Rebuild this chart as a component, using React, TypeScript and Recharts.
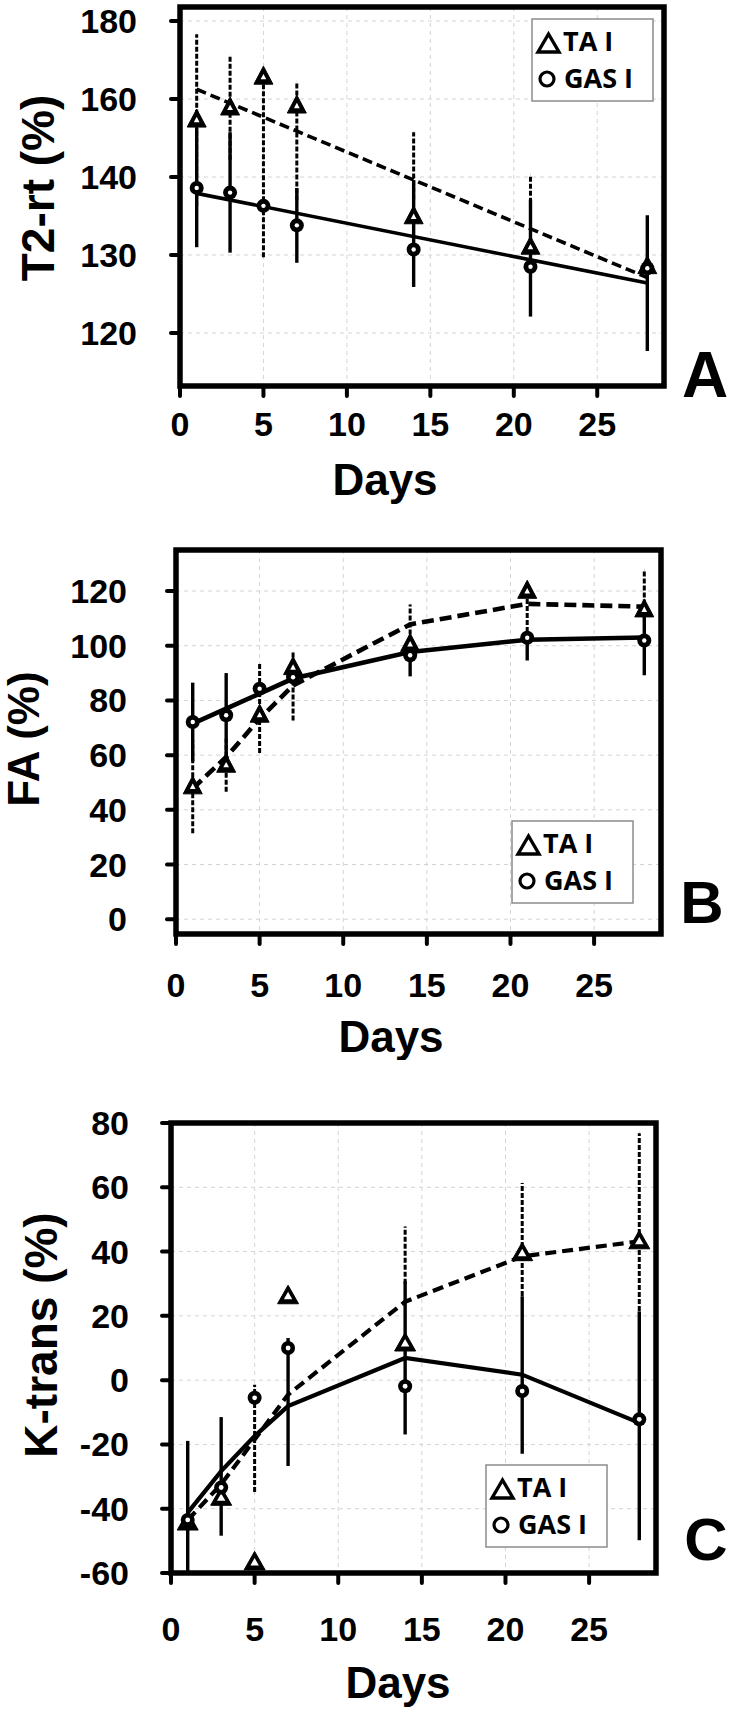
import React from 'react';
import {
  ComposedChart,
  Scatter,
  XAxis,
  YAxis,
  CartesianGrid,
  ErrorBar,
  ReferenceArea,
  Legend,
} from 'recharts';

// ---------- shared ----------
const days = [1, 3, 5, 7, 14, 21, 28];
const dayTicks = [0, 5, 10, 15, 20, 25];
const dayDomain = [0, 29];

// ---------- Panel A : T2-rt (%) ----------
const t2TickLabels = [120, 130, 140, 160, 180];
const t2TA = [154.6, 157.7, 165.6, 158.2, 134.9, 131.0, 128.5];
const t2TAlo = [136.3, 144.4, 129.7, 137.0, 137.1, 135.8, 128.5];
const t2TAhi = [176.6, 171.3, 165.6, 164.4, 151.5, 140.5, 128.5];
const t2GAS = [138.6, 138.0, 136.3, 133.8, 130.7, 128.5, 128.3];
const t2GASlo = [131.0, 130.3, 136.3, 129.0, 125.9, 122.1, 117.7];
const t2GAShi = [152.6, 151.5, 136.3, 138.6, 139.6, 137.1, 135.1];
const t2FitDays = [1, 28];
const t2FitTA = [162.5, 127.1];
const t2FitGAS = [137.9, 126.4];

// ---------- Panel B : FA (%) ----------
const faTicks = [0, 20, 40, 60, 80, 100, 120];
const faTA = [48.4, 56.3, 74.6, 92.0, 100.5, 119.9, 113.1];
const faTAlo = [31.4, 46.6, 60.8, 72.7, 99.0, 105.0, 110.0];
const faTAhi = [65.4, 66.0, 93.7, 97.7, 115.1, 119.9, 127.7];
const faGAS = [72.1, 74.6, 84.3, 88.5, 96.5, 102.9, 101.9];
const faGASlo = [57.7, 59.2, 84.3, 88.5, 88.8, 94.6, 89.2];
const faGAShi = [86.5, 90.0, 84.3, 88.5, 102.0, 105.0, 110.4];
const faFitTA = [47.8, 59.3, 73.3, 85.5, 107.8, 115.3, 114.3];
const faFitGAS = [71.5, 77.0, 82.5, 88.0, 97.7, 102.2, 103.0];

// ---------- Panel C : K-trans (%) ----------
const ktTicks = [-60, -40, -20, 0, 20, 40, 60, 80];
const ktTA = [-44.3, -36.6, -56.7, 26.1, 11.4, 39.5, 43.2];
const ktTAlo = [-44.3, -36.6, -34.8, 26.1, 30.0, 26.2, 21.5];
const ktTAhi = [-44.3, -36.6, -1.4, 26.1, 47.8, 61.3, 76.8];
const ktGAS = [-43.5, -33.4, -5.5, 10.0, -1.9, -3.4, -12.2];
const ktGASlo = [-60, -48.4, -5.5, -26.7, -16.9, -22.9, -49.8];
const ktGAShi = [-18.9, -11.5, -5.5, 13.1, 30.7, 26.1, 21.4];
const ktFitTA = [-43.5, -32.4, -18.5, -4.5, 24.4, 38.5, 43.2];
const ktFitGAS = [-41.2, -28.3, -17.4, -8.1, 6.9, 1.7, -13.3];

const FONT = '"Liberation Sans", Arial, Helvetica, sans-serif';
const LEGEND_FONT = '"Open Sans", "Noto Sans", sans-serif';

type Fn = (v: number) => number;
const identity: Fn = (v) => v;

// piecewise-linear mapping of the (unevenly labelled) T2 axis onto tick index space
const piecewise = (labels: number[]): Fn => (v) => {
  const n = labels.length;
  let i = 0;
  if (v >= labels[n - 1]) i = n - 2;
  else {
    for (let k = 0; k < n - 1; k++) {
      if (v >= labels[k] && v <= labels[k + 1]) {
        i = k;
        break;
      }
    }
  }
  return i + (v - labels[i]) / (labels[i + 1] - labels[i]);
};

const points = (xs: number[], m: number[], lo: number[], hi: number[], f: Fn) =>
  xs.map((d, i) => {
    const y = f(m[i]);
    return { x: d, y, e: [y - f(lo[i]), f(hi[i]) - y] };
  });

const fitPts = (xs: number[], ys: number[], f: Fn) => xs.map((d, i) => ({ x: d, y: f(ys[i]) }));

// bold outlined triangle: black body with a small white hole
const makeTri = (w: number, up: number, down: number, hole: number) => (props: any) => {
  const { cx, cy } = props;
  if (cx == null || cy == null) return <g />;
  const tri = (s: number) =>
    `${cx},${cy - up * s} ${cx - w * s},${cy + down * s} ${cx + w * s},${cy + down * s}`;
  return (
    <g>
      <polygon points={tri(1)} fill="#000" stroke="#000" strokeWidth={1} strokeLinejoin="round" />
      <polygon points={tri(hole)} fill="#fff" />
    </g>
  );
};

const makeCirc = (r: number, hole: number) => (props: any) => {
  const { cx, cy } = props;
  if (cx == null || cy == null) return <g />;
  return (
    <g>
      <circle cx={cx} cy={cy} r={r} fill="#000" />
      <circle cx={cx} cy={cy} r={hole} fill="#fff" />
    </g>
  );
};

const noShape = () => <g />;

const LegendBox = () => (
  <svg width={124} height={84} style={{ display: 'block' }}>
    <rect x={1} y={1} width={121} height={82} fill="#fff" stroke="#8c8c8c" strokeWidth={1.5} />
    <polygon points="7,34 17.5,16 28,34" fill="none" stroke="#000" strokeWidth={3.4} />
    <text x={32} y={33} fontFamily={LEGEND_FONT} fontWeight={700} fontSize={27} fill="#000">
      TA I
    </text>
    <circle cx={16} cy={61} r={7} fill="none" stroke="#000" strokeWidth={3.2} />
    <text x={33} y={70} fontFamily={LEGEND_FONT} fontWeight={700} fontSize={27} fill="#000">
      GAS I
    </text>
  </svg>
);

type PanelProps = {
  top: number;
  height: number;
  margin: { top: number; right: number; left: number; bottom: number };
  yWidth: number;
  xHeight: number;
  yDomain: number[];
  yTicks: number[];
  yFormat?: (v: number) => string;
  yTickMargin: number;
  xTickMargin: number;
  ta: any[];
  gas: any[];
  fitTA: any[];
  fitGAS: any[];
  daysPos: { x: number; y: number };
  yTitle: string;
  yTitlePos: { x: number; y: number; size: number };
  legendPos: { left: number; top: number };
  lineW: number;
  dash: string;
  tri: (p: any) => any;
  circ: (p: any) => any;
};

const Panel = (p: PanelProps) => {
  const tickStyle = { fontFamily: FONT, fontWeight: 700, fontSize: 34, fill: '#000' };
  return (
    <div style={{ position: 'absolute', left: 0, top: p.top, width: 732, height: p.height }}>
      <ComposedChart width={732} height={p.height} margin={p.margin}>
        <CartesianGrid stroke="#d4d4d4" strokeDasharray="4 4" strokeWidth={1} />
        <XAxis
          type="number"
          dataKey="x"
          domain={dayDomain}
          ticks={dayTicks}
          allowDataOverflow
          height={p.xHeight}
          axisLine={false}
          tickSize={10}
          tickMargin={p.xTickMargin}
          tickLine={{ stroke: '#000', strokeWidth: 4, strokeLinecap: 'round' }}
          tick={tickStyle}
          label={() => (
            <text
              x={p.daysPos.x}
              y={p.daysPos.y}
              textAnchor="middle"
              fontFamily={FONT}
              fontWeight={700}
              fontSize={44}
              fill="#000"
            >
              Days
            </text>
          )}
        />
        <YAxis
          type="number"
          dataKey="y"
          domain={p.yDomain}
          ticks={p.yTicks}
          allowDataOverflow
          width={p.yWidth}
          axisLine={false}
          tickSize={9}
          tickMargin={p.yTickMargin}
          tickLine={{ stroke: '#000', strokeWidth: 4, strokeLinecap: 'round' }}
          tick={tickStyle}
          tickFormatter={p.yFormat}
          label={() => (
            <text
              x={p.yTitlePos.x}
              y={p.yTitlePos.y}
              transform={`rotate(-90 ${p.yTitlePos.x} ${p.yTitlePos.y})`}
              textAnchor="middle"
              fontFamily={FONT}
              fontWeight={700}
              fontSize={p.yTitlePos.size}
              fill="#000"
            >
              {p.yTitle}
            </text>
          )}
        />
        <Scatter
          data={p.fitGAS}
          dataKey="y"
          shape={noShape}
          line={{ stroke: '#000', strokeWidth: p.lineW }}
          legendType="none"
          isAnimationActive={false}
        />
        <Scatter
          data={p.fitTA}
          dataKey="y"
          shape={noShape}
          line={{ stroke: '#000', strokeWidth: p.lineW, strokeDasharray: p.dash }}
          legendType="none"
          isAnimationActive={false}
        />
        <Scatter data={p.ta} dataKey="y" name="TA I" shape={p.tri} isAnimationActive={false}>
          <ErrorBar
            dataKey="e"
            direction="y"
            width={0}
            stroke="#000"
            strokeWidth={3}
            strokeDasharray="5 2"
            isAnimationActive={false}
          />
        </Scatter>
        <Scatter data={p.gas} dataKey="y" name="GAS I" shape={p.circ} isAnimationActive={false}>
          <ErrorBar dataKey="e" direction="y" width={0} stroke="#000" strokeWidth={3.4} isAnimationActive={false} />
        </Scatter>
        <ReferenceArea
          x1={dayDomain[0]}
          x2={dayDomain[1]}
          y1={p.yDomain[0]}
          y2={p.yDomain[1]}
          fill="none"
          fillOpacity={0}
          stroke="#000"
          strokeWidth={5.5}
          ifOverflow="visible"
        />
        <Legend
          layout="horizontal"
          verticalAlign="middle"
          align="center"
          wrapperStyle={{ left: p.legendPos.left, top: p.legendPos.top, width: 124, height: 84 }}
          content={() => <LegendBox />}
        />
      </ComposedChart>
    </div>
  );
};

const fT2 = piecewise(t2TickLabels);

export default function App() {
  const taA = points(days, t2TA, t2TAlo, t2TAhi, fT2);
  const gasA = points(days, t2GAS, t2GASlo, t2GAShi, fT2);
  const taB = points(days, faTA, faTAlo, faTAhi, identity);
  const gasB = points(days, faGAS, faGASlo, faGAShi, identity);
  const taC = points(days, ktTA, ktTAlo, ktTAhi, identity);
  const gasC = points(days, ktGAS, ktGASlo, ktGAShi, identity);

  const letterStyle = { fontFamily: FONT, fontWeight: 700, fill: '#000' };

  return (
    <div style={{ position: 'absolute', left: 0, top: 0, width: 732, height: 1712, background: '#fff' }}>
      <Panel
        top={0}
        height={520}
        margin={{ top: 7, right: 68, left: 0, bottom: 0 }}
        yWidth={180}
        xHeight={134}
        yDomain={[-0.68, 4.18]}
        yTicks={[0, 1, 2, 3, 4]}
        yFormat={(v: number) => String(t2TickLabels[Math.round(v)] ?? '')}
        yTickMargin={34}
        xTickMargin={16}
        ta={taA}
        gas={gasA}
        fitTA={fitPts(t2FitDays, t2FitTA, fT2)}
        fitGAS={fitPts(t2FitDays, t2FitGAS, fT2)}
        daysPos={{ x: 385, y: 495 }}
        yTitle="T2-rt (%)"
        yTitlePos={{ x: 54, y: 188, size: 46 }}
        legendPos={{ left: 531, top: 18 }}
        lineW={3.6}
        dash="10 5"
        tri={makeTri(9.5, 11, 7, 0.3)}
        circ={makeCirc(7, 2.2)}
      />
      <Panel
        top={520}
        height={540}
        margin={{ top: 30, right: 71, left: 0, bottom: 0 }}
        yWidth={176}
        xHeight={126}
        yDomain={[-5.4, 135]}
        yTicks={faTicks}
        yTickMargin={40}
        xTickMargin={29}
        ta={taB}
        gas={gasB}
        fitTA={fitPts(days, faFitTA, identity)}
        fitGAS={fitPts(days, faFitGAS, identity)}
        daysPos={{ x: 391, y: 532 }}
        yTitle="FA (%)"
        yTitlePos={{ x: 39, y: 219, size: 44 }}
        legendPos={{ left: 511, top: 300 }}
        lineW={4.6}
        dash="12 6"
        tri={makeTri(9.5, 11, 7, 0.3)}
        circ={makeCirc(7, 2.2)}
      />
      <Panel
        top={1060}
        height={652}
        margin={{ top: 63, right: 76, left: 0, bottom: 0 }}
        yWidth={171}
        xHeight={139}
        yDomain={[-60, 80]}
        yTicks={ktTicks}
        yTickMargin={33}
        xTickMargin={34}
        ta={taC}
        gas={gasC}
        fitTA={fitPts(days, ktFitTA, identity)}
        fitGAS={fitPts(days, ktFitGAS, identity)}
        daysPos={{ x: 398, y: 638 }}
        yTitle="K-trans (%)"
        yTitlePos={{ x: 57, y: 275, size: 46 }}
        legendPos={{ left: 485, top: 404 }}
        lineW={4.2}
        dash="11 6"
        tri={makeTri(10.5, 11, 7.5, 0.4)}
        circ={makeCirc(7, 2.4)}
      />
      <svg
        width={732}
        height={1712}
        style={{ position: 'absolute', left: 0, top: 0, pointerEvents: 'none' }}
      >
        <text x={705} y={397} textAnchor="middle" fontSize={64} {...letterStyle}>
          A
        </text>
        <text x={702} y={923} textAnchor="middle" fontSize={60} {...letterStyle}>
          B
        </text>
        <text x={706} y={1560} textAnchor="middle" fontSize={60} {...letterStyle}>
          C
        </text>
      </svg>
    </div>
  );
}
